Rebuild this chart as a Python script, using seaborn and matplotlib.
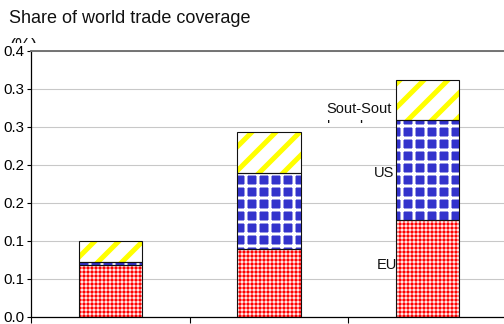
import matplotlib
matplotlib.use("Agg")
import matplotlib.pyplot as plt
import numpy as np
import pandas as pd
import seaborn as sns
from matplotlib.transforms import Bbox, TransformedBbox

# Stacked shares of world trade coverage for three groups
groups = ["G1", "G2", "G3"]
eu = [0.069, 0.0895, 0.127]
us = [0.004, 0.1005, 0.132]
south_south = [0.027, 0.054, 0.053]

series_labels = ["EU", "US", "Sout-Sout"]
label_tail = "h      h"

ytick_values = [0.0, 0.05, 0.10, 0.15, 0.20, 0.25, 0.30, 0.35]
ytick_labels = ["0.0", "0.1", "0.1", "0.2", "0.2", "0.3", "0.3", "0.4"]

title = "Share of world trade coverage"
title_unit = "(%)"

sns.set_theme(style="white")
plt.rcParams["font.family"] = ["Liberation Sans", "DejaVu Sans"]

DPI = 72
W, H = 504, 324
fig = plt.figure(figsize=(W / DPI, H / DPI), dpi=DPI)
fig.patch.set_facecolor("white")
ax = fig.add_axes([31 / W, 7 / H, 476 / W, 266 / H])
ax.set_facecolor("white")

df = pd.DataFrame({"group": groups, "EU": eu, "US": us, "SS": south_south})
bottom_us = df["EU"].to_numpy()
bottom_ss = (df["EU"] + df["US"]).to_numpy()

# (column, bottom, face colour, hatch colour, hatch, hatch linewidth)
layers = [
    ("EU", np.zeros(len(groups)), "#FF0000", "white", "+++", 0.9),
    ("US", bottom_us, "#3333CC", "white", "+", 3.0),
    ("SS", bottom_ss, "white", "#FFFF00", "/", 5.0),
]

for col, bottom, face, hcol, hatch, hlw in layers:
    n0 = len(ax.patches)
    with plt.rc_context({"hatch.linewidth": hlw}):
        sns.barplot(data=df, x="group", y=col, bottom=bottom, color=face,
                    saturation=1, width=0.4, errorbar=None, ax=ax)
    for p in ax.patches[n0:]:
        p.set_facecolor(face)
        p.set_edgecolor(hcol)
        p.set_hatch(hatch)
        p.set_linewidth(0)
        p.set_zorder(2)
        if hasattr(p, "set_hatch_linewidth"):
            p.set_hatch_linewidth(hlw)
    # black outline on top of the patterned fill
    n1 = len(ax.patches)
    sns.barplot(data=df, x="group", y=col, bottom=bottom, color=face,
                saturation=1, width=0.4, errorbar=None, ax=ax)
    for p in ax.patches[n1:]:
        p.set_facecolor("none")
        p.set_edgecolor("#111111")
        p.set_linewidth(1.1)
        p.set_hatch(None)
        p.set_zorder(3)

ax.set_xlim(-0.5, 2.5)
ax.set_ylim(0, 0.35)
ax.set_xlabel("")
ax.set_ylabel("")

ax.set_yticks(ytick_values)
ax.set_yticklabels(ytick_labels)
ax.set_xticks([-0.5, 0.5, 1.5, 2.5])
ax.set_xticklabels([])
ax.tick_params(axis="y", left=True, length=4, width=1.1, pad=3,
               labelsize=15, colors="black", direction="out")
ax.tick_params(axis="x", bottom=True, length=6, width=1.1,
               colors="black", direction="out")

ax.set_axisbelow(True)
ax.yaxis.grid(True, color="#c8c8c8", linewidth=1.1)
ax.xaxis.grid(False)

for side in ["left", "bottom"]:
    ax.spines[side].set_color("black")
    ax.spines[side].set_linewidth(1.25)
ax.spines["top"].set_color("#707070")
ax.spines["top"].set_linewidth(1.9)
ax.spines["right"].set_visible(False)

# series name labels beside the last bar
ax.annotate(series_labels[0], xy=(1.8, 0.0684), xytext=(1.5, 0),
            textcoords="offset pixels", ha="right", va="center",
            fontsize=14.6, color="#111111", zorder=1.5)
ax.annotate(series_labels[1], xy=(1.8, 0.1895), xytext=(-1.5, 0),
            textcoords="offset pixels", ha="right", va="center",
            fontsize=14.6, color="#111111", zorder=1.5)
ax.annotate(series_labels[2], xy=(1.8, 0.2688), xytext=(-4, 0),
            textcoords="offset pixels", ha="right", va="baseline",
            fontsize=14.6, color="#111111", zorder=1.5)
tail = ax.text(1.365, 0.2451, label_tail, ha="left", va="baseline",
               fontsize=14.6, color="#111111", zorder=1.5)
tail.set_clip_box(TransformedBbox(Bbox([[-0.5, 0.2553], [2.5, 0.35]]),
                                  ax.transData))
tail.set_clip_on(True)

fig.text(9 / W, 1 - 23 / H, title, ha="left", va="baseline",
         fontsize=18, color="#111111")
unit = fig.text(10 / W, 1 - 51 / H, title_unit, ha="left", va="baseline",
                fontsize=18, color="#111111")
unit.set_clip_box(TransformedBbox(Bbox([[0, 1 - 43 / H], [1, 1]]),
                                  fig.transFigure))
unit.set_clip_on(True)

fig.savefig("out.png", dpi=DPI)
